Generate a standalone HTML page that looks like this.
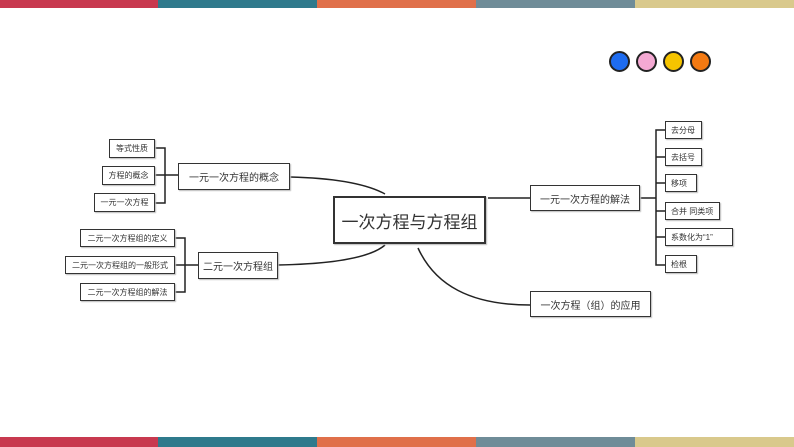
<!DOCTYPE html>
<html><head><meta charset="utf-8"><style>
body{margin:0;width:794px;height:447px;background:#fff;position:relative;overflow:hidden;font-family:"Liberation Sans","Noto Sans CJK SC",sans-serif;color:#333}
.bar{position:absolute;height:8px}
.b{position:absolute;border:1.3px solid #333;box-sizing:border-box;display:flex;align-items:center;justify-content:center;font-size:8px;white-space:nowrap;background:#fff;box-shadow:1px 1px 1px #bbb}
.r{justify-content:flex-start;padding-left:5px}
.c{position:absolute;width:21px;height:21px;border-radius:50%;border:2px solid #222;box-sizing:border-box}
</style></head><body>
<div class="bar" style="left:0;top:0;width:158px;background:#c8394f"></div>
<div class="bar" style="left:158px;top:0;width:159px;background:#2f7a8c"></div>
<div class="bar" style="left:317px;top:0;width:159px;background:#e0704a"></div>
<div class="bar" style="left:476px;top:0;width:159px;background:#6f8c98"></div>
<div class="bar" style="left:635px;top:0;width:159px;background:#d9c98c"></div>
<div class="bar" style="left:0;top:437px;height:10px;width:158px;background:#c8394f"></div>
<div class="bar" style="left:158px;top:437px;height:10px;width:159px;background:#2f7a8c"></div>
<div class="bar" style="left:317px;top:437px;height:10px;width:159px;background:#e0704a"></div>
<div class="bar" style="left:476px;top:437px;height:10px;width:159px;background:#6f8c98"></div>
<div class="bar" style="left:635px;top:437px;height:10px;width:159px;background:#d9c98c"></div>
<div class="c" style="left:609px;top:51px;background:#1e6cf0"></div>
<div class="c" style="left:636px;top:51px;background:#f4a9d3"></div>
<div class="c" style="left:663px;top:51px;background:#f6c400"></div>
<div class="c" style="left:690px;top:51px;background:#f47a12"></div>
<svg width="794" height="447" style="position:absolute;left:0;top:0" fill="none" stroke="#222" stroke-width="1.5">
<path d="M290 177 C330 178 365 183 385 194"/>
<path d="M278 265 C330 264 370 258 385 245"/>
<path d="M488 198 L530 198"/>
<path d="M418 248 C435 285 470 305 530 305"/>
<path d="M155 148 H165 V203 H155 M155 175 H178"/>
<path d="M175 238 H185 V292 H175 M175 265 H198"/>
<path d="M640 198 H656 M665 130 H656 V265 H665 M656 157 H665 M656 183 H665 M656 211 H665 M656 237 H665"/>
</svg>
<div class="b" style="left:333px;top:196px;width:153px;height:48px;font-size:17px;border-width:2px">一次方程与方程组</div>
<div class="b" style="left:178px;top:163px;width:112px;height:27px;font-size:10px">一元一次方程的概念</div>
<div class="b" style="left:109px;top:139px;width:46px;height:19px">等式性质</div>
<div class="b" style="left:102px;top:166px;width:53px;height:19px">方程的概念</div>
<div class="b" style="left:94px;top:193px;width:61px;height:19px">一元一次方程</div>
<div class="b" style="left:198px;top:252px;width:80px;height:27px;font-size:10px">二元一次方程组</div>
<div class="b" style="left:80px;top:229px;width:95px;height:18px">二元一次方程组的定义</div>
<div class="b" style="left:65px;top:256px;width:110px;height:18px">二元一次方程组的一般形式</div>
<div class="b" style="left:80px;top:283px;width:95px;height:18px">二元一次方程组的解法</div>
<div class="b" style="left:530px;top:185px;width:110px;height:26px;font-size:10px">一元一次方程的解法</div>
<div class="b" style="left:530px;top:291px;width:121px;height:26px;font-size:10px">一次方程（组）的应用</div>
<div class="b r" style="left:665px;top:121px;width:37px;height:18px">去分母</div>
<div class="b r" style="left:665px;top:148px;width:37px;height:18px">去括号</div>
<div class="b r" style="left:665px;top:174px;width:32px;height:18px">移项</div>
<div class="b r" style="left:665px;top:202px;width:55px;height:18px">合并 同类项</div>
<div class="b r" style="left:665px;top:228px;width:68px;height:18px">系数化为“1”</div>
<div class="b r" style="left:665px;top:255px;width:32px;height:18px">检根</div>
</body></html>
